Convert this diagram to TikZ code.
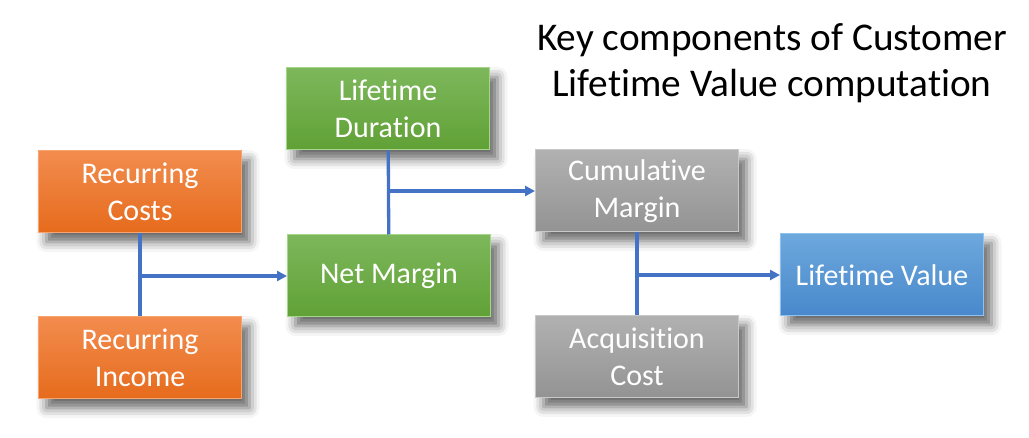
\documentclass[tikz,border=0pt]{standalone}
\usepackage{fontspec}
\setmainfont{Carlito}[Ligatures=NoCommon]
\usetikzlibrary{arrows.meta,shadows.blur}
\definecolor{orangetop}{HTML}{F28C4E}
\definecolor{orangebot}{HTML}{E66B1C}
\definecolor{orangeedge}{HTML}{F7A46E}
\definecolor{greentop}{HTML}{7DB75B}
\definecolor{greenbot}{HTML}{60A136}
\definecolor{greenedge}{HTML}{A5D68A}
\definecolor{graytop}{HTML}{B1B1B1}
\definecolor{graybot}{HTML}{939393}
\definecolor{grayedge}{HTML}{C8C8C8}
\definecolor{bluetop}{HTML}{6DA8DD}
\definecolor{bluebot}{HTML}{4888CB}
\definecolor{blueedge}{HTML}{8FC2EE}
\definecolor{linkblue}{HTML}{4472C4}
\begin{document}
\begin{tikzpicture}[x=1pt,y=-1pt]
        \tikzstyle{block}=[rectangle,minimum width=203pt,minimum height=82pt,inner sep=0pt,align=center,text=white,font=\fontsize{30}{36.6}\selectfont,line width=1pt,blur shadow={shadow xshift=8pt,shadow yshift=-9pt,shadow blur radius=10pt,shadow opacity=60}]
        \tikzstyle{income}=[block,top color=orangetop,bottom color=orangebot,draw=orangeedge]
        \tikzstyle{margin}=[block,top color=greentop,bottom color=greenbot,draw=greenedge]
        \tikzstyle{cost}=[block,top color=graytop,bottom color=graybot,draw=grayedge]
        \tikzstyle{value}=[block,top color=bluetop,bottom color=bluebot,draw=blueedge]
        \tikzstyle{link}=[draw=linkblue,line width=3.3pt]
        \tikzstyle{arrow}=[link,-{Triangle[length=10pt,width=10pt]}]
        \useasboundingbox (0,0) rectangle (1029,438);
        % title
        \node [align=center,font=\fontsize{39.3}{46}\selectfont] (title) at (772,63) {Key components of Customer\\Lifetime Value computation};
        % boxes
        \node [income] (rc) at (140,192) {Recurring\\Costs};
        \node [income] (ri) at (140,358) {Recurring\\Income};
        \node [margin] (ld) at (388,109) {Lifetime\\Duration};
        \node [margin] (nm) at (389,276) {Net Margin};
        \node [cost] (cm) at (637,191) {Cumulative\\Margin};
        \node [cost] (ac) at (637,357) {Acquisition\\Cost};
        \node [value] (lv) at (882,275) {Lifetime Value};
        % connectors
        \path[link] (rc) -- (ri);
        \path[arrow] (rc.south |- nm.west) -- (nm.west);
        \path[link] (ld) -- (nm);
        \path[arrow] (ld.south |- cm.west) -- (cm.west);
        \path[link] (cm) -- (ac);
        \path[arrow] (cm.south |- lv.west) -- (lv.west);
      \end{tikzpicture}
\end{document}
